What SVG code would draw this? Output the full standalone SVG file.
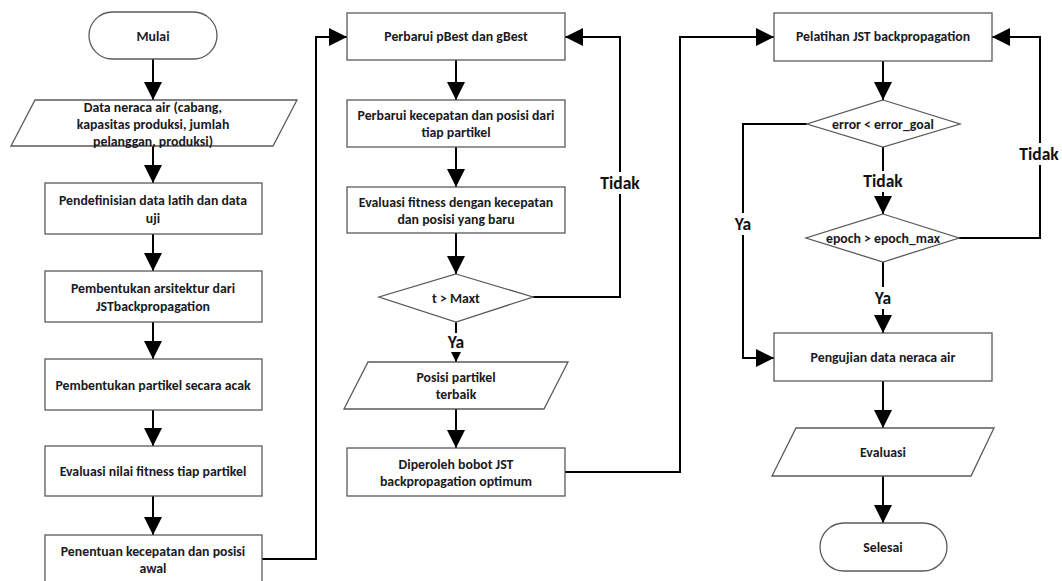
<svg xmlns="http://www.w3.org/2000/svg" width="1062" height="581" viewBox="0 0 1062 581">
<defs>
<style>
.s{fill:#fff;stroke:#5a5a5a;stroke-width:1.3}
.c{fill:none;stroke:#000;stroke-width:2}
.t{font-family:Carlito,Lato,"Liberation Sans",sans-serif;font-weight:700;font-size:13.8px;fill:#1a1a24;text-anchor:middle;dominant-baseline:central}
.l{font-family:Carlito,Lato,"Liberation Sans",sans-serif;font-weight:700;font-size:17.5px;fill:#111;text-anchor:middle;dominant-baseline:central}
</style>
<marker id="a" markerUnits="userSpaceOnUse" markerWidth="18" markerHeight="18" refX="17" refY="8.5" orient="auto" viewBox="0 0 17 17"><path d="M0,0 L17,8.5 L0,17 z" fill="#000"/></marker>
<marker id="b" markerUnits="userSpaceOnUse" markerWidth="10" markerHeight="10" refX="9" refY="4.5" orient="auto" viewBox="0 0 9 9"><path d="M0,0 L9,4.5 L0,9 z" fill="#000"/></marker>
</defs>
<rect width="1062" height="581" fill="#fff"/>

<g id="connectors">
<path class="c" d="M153,59 V100" marker-end="url(#a)"/>
<path class="c" d="M153,146 V183" marker-end="url(#a)"/>
<path class="c" d="M153,234 V271" marker-end="url(#a)"/>
<path class="c" d="M153,322 V359" marker-end="url(#a)"/>
<path class="c" d="M153,410 V446" marker-end="url(#a)"/>
<path class="c" d="M153,496 V535" marker-end="url(#a)"/>
<path class="c" d="M262,559 H316 V37 H347" marker-end="url(#a)"/>
<path class="c" d="M456,60 V100" marker-end="url(#a)"/>
<path class="c" d="M456,147 V187" marker-end="url(#a)"/>
<path class="c" d="M456,233 V274" marker-end="url(#a)"/>
<path class="c" d="M533,297 H620 V37 H565" marker-end="url(#a)"/>
<path class="c" d="M456,322 V333"/>
<path class="c" d="M456,352 V362" marker-end="url(#b)"/>
<path class="c" d="M456,409 V448" marker-end="url(#a)"/>
<path class="c" d="M565,472 H680 V37 H774" marker-end="url(#a)"/>
<path class="c" d="M883,61 V100" marker-end="url(#a)"/>
<path class="c" d="M807,124 H743 V358 H774" marker-end="url(#a)"/>
<path class="c" d="M883,147 V171"/>
<path class="c" d="M883,192 V214" marker-end="url(#a)"/>
<path class="c" d="M959,238 H1040 V37 H992" marker-end="url(#a)"/>
<path class="c" d="M883,262 V287"/>
<path class="c" d="M883,309 V333" marker-end="url(#a)"/>
<path class="c" d="M883,381 V428" marker-end="url(#a)"/>
<path class="c" d="M883,476 V523" marker-end="url(#a)"/>
<rect x="596" y="172" width="48" height="22" fill="#fff"/>
<text class="l" x="620" y="183">Tidak</text>
<rect x="442" y="333" width="28" height="19" fill="#fff"/>
<text class="l" x="456" y="342">Ya</text>
<rect x="729" y="213" width="28" height="22" fill="#fff"/>
<text class="l" x="743" y="224">Ya</text>
<rect x="859" y="171" width="48" height="21" fill="#fff"/>
<text class="l" x="883" y="181">Tidak</text>
<rect x="1016" y="143" width="46" height="22" fill="#fff"/>
<text class="l" x="1039" y="154">Tidak</text>
<rect x="869" y="287" width="28" height="22" fill="#fff"/>
<text class="l" x="883" y="298">Ya</text>
</g>

<g id="mulai">
<rect class="s" x="89" y="12" width="128" height="47" rx="23.5"/>
<text class="t" x="153" y="36">Mulai</text>
</g>
<g id="data-neraca">
<polygon class="s" points="35,100 297,100 273,146 11,146"/>
<text class="t" x="153" y="107">Data neraca air (cabang,</text>
<text class="t" x="153" y="124">kapasitas produksi, jumlah</text>
<text class="t" x="153" y="141">pelanggan, produksi)</text>
</g>
<g id="pendefinisian">
<rect class="s" x="45" y="183" width="217" height="51"/>
<text class="t" x="153" y="200">Pendefinisian data latih dan data</text>
<text class="t" x="153" y="218">uji</text>
</g>
<g id="arsitektur">
<rect class="s" x="45" y="271" width="217" height="51"/>
<text class="t" x="153" y="288">Pembentukan arsitektur dari</text>
<text class="t" x="153" y="306">JSTbackpropagation</text>
</g>
<g id="partikel">
<rect class="s" x="45" y="359" width="217" height="51"/>
<text class="t" x="153" y="385">Pembentukan partikel secara acak</text>
</g>
<g id="evaluasi-nilai">
<rect class="s" x="45" y="446" width="217" height="50"/>
<text class="t" x="153" y="471">Evaluasi nilai fitness tiap partikel</text>
</g>
<g id="penentuan">
<rect class="s" x="45" y="535" width="217" height="52"/>
<text class="t" x="153" y="551">Penentuan kecepatan dan posisi</text>
<text class="t" x="153" y="568">awal</text>
</g>

<g id="perbarui-best">
<rect class="s" x="347" y="13" width="218" height="47"/>
<text class="t" x="456" y="36">Perbarui pBest dan gBest</text>
</g>
<g id="perbarui-kecepatan">
<rect class="s" x="347" y="100" width="218" height="47"/>
<text class="t" x="456" y="115">Perbarui kecepatan dan posisi dari</text>
<text class="t" x="456" y="132">tiap partikel</text>
</g>
<g id="evaluasi-fitness">
<rect class="s" x="347" y="187" width="218" height="46"/>
<text class="t" x="456" y="202">Evaluasi fitness dengan kecepatan</text>
<text class="t" x="456" y="219">dan posisi yang baru</text>
</g>
<g id="t-maxt">
<polygon class="s" points="456,274 533,297 456,322 379,297"/>
<text class="t" x="456" y="298">t &gt; Maxt</text>
</g>
<g id="posisi-terbaik">
<polygon class="s" points="368,362 568,362 544,409 344,409"/>
<text class="t" x="456" y="377">Posisi partikel</text>
<text class="t" x="456" y="394">terbaik</text>
</g>
<g id="diperoleh">
<rect class="s" x="347" y="448" width="218" height="48"/>
<text class="t" x="456" y="464">Diperoleh bobot JST</text>
<text class="t" x="456" y="481">backpropagation optimum</text>
</g>

<g id="pelatihan">
<rect class="s" x="774" y="13" width="218" height="48"/>
<text class="t" x="883" y="36">Pelatihan JST backpropagation</text>
</g>
<g id="error-goal">
<polygon class="s" points="883,100 960,124 883,147 807,124"/>
<text class="t" x="883" y="124">error &lt; error_goal</text>
</g>
<g id="epoch-max">
<polygon class="s" points="883,214 959,238 883,262 806,238"/>
<text class="t" x="883" y="238">epoch &gt; epoch_max</text>
</g>
<g id="pengujian">
<rect class="s" x="774" y="333" width="218" height="48"/>
<text class="t" x="883" y="357">Pengujian data neraca air</text>
</g>
<g id="evaluasi">
<polygon class="s" points="796,428 994,428 971,476 772,476"/>
<text class="t" x="883" y="452">Evaluasi</text>
</g>
<g id="selesai">
<rect class="s" x="820" y="523" width="127" height="48" rx="24"/>
<text class="t" x="883" y="547">Selesai</text>
</g>
</svg>
